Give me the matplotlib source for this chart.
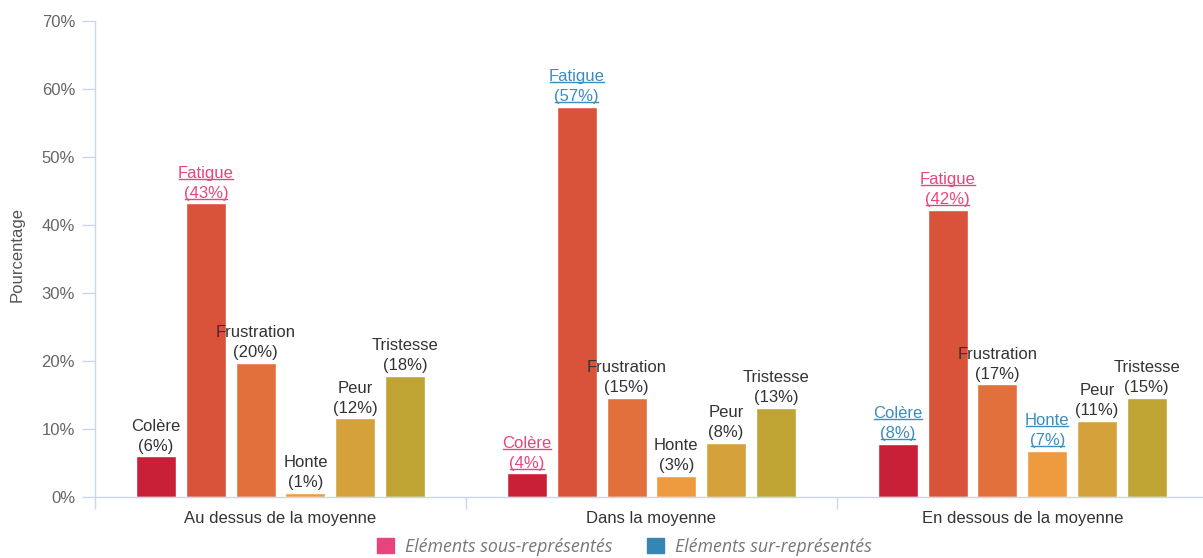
import numpy as np
import matplotlib.pyplot as plt
from matplotlib.patches import Patch
from matplotlib.lines import Line2D
from matplotlib.ticker import FuncFormatter, FixedLocator

plt.rcParams['font.family'] = ['Liberation Sans', 'DejaVu Sans']

# Données : pourcentage de chaque émotion par groupe
groupes = ['Au dessus de la moyenne', 'Dans la moyenne', 'En dessous de la moyenne']
emotions = ['Colère', 'Fatigue', 'Frustration', 'Honte', 'Peur', 'Tristesse']
au_dessus = [6.0, 43.2, 19.7, 0.6, 11.6, 17.8]
dans = [3.5, 57.4, 14.6, 3.1, 8.0, 13.1]
en_dessous = [7.8, 42.3, 16.6, 6.8, 11.2, 14.6]

# Ecarts significatifs : 'sous' = sous-représenté, 'sur' = sur-représenté
ecarts_au_dessus = ['', 'sous', '', '', '', '']
ecarts_dans = ['sous', 'sur', '', '', '', '']
ecarts_en_dessous = ['sur', 'sous', '', 'sur', '', '']

couleurs = ['#C82137', '#D9533A', '#E2703D', '#EE9A3E', '#D4A13A', '#BFA434']
couleur_ecart = {'sous': '#E8457C', 'sur': '#3C8CC0', '': '#333333'}
axe_couleur = '#CCD6EB'

valeurs = np.array([au_dessus, dans, en_dessous])
ecarts = [ecarts_au_dessus, ecarts_dans, ecarts_en_dessous]

fig = plt.figure(figsize=(12.03, 5.58), dpi=100)
ax = fig.add_axes([0.079, 0.109, 0.925, 0.853])

x = np.arange(len(groupes))
pas = 0.1342
largeur = 0.108
a_souligner = []

for i, emo in enumerate(emotions):
    pos = x + (i - 2.5) * pas
    ax.bar(pos, valeurs[:, i], largeur, color=couleurs[i],
           edgecolor='white', linewidth=1, zorder=2)
    for g in range(len(groupes)):
        v = valeurs[g, i]
        c = couleur_ecart[ecarts[g][i]]
        t1 = ax.annotate(f'({v:.0f}%)', (pos[g], v), xytext=(0, 2),
                         textcoords='offset points', ha='center', va='bottom',
                         fontsize=12, color=c, zorder=3)
        t2 = ax.annotate(emo, (pos[g], v), xytext=(0, 16.4),
                         textcoords='offset points', ha='center', va='bottom',
                         fontsize=12, color=c, zorder=3)
        if ecarts[g][i]:
            a_souligner += [(t1, c), (t2, c)]

ax.set_xlim(-0.5, 2.5)
ax.set_ylim(0, 70)
ax.set_yticks(np.arange(0, 71, 10))
ax.yaxis.set_major_formatter(FuncFormatter(lambda v, _: f'{v:.0f}%'))
ax.set_xticks(x)
ax.set_xticklabels(groupes)
ax.xaxis.set_minor_locator(FixedLocator([-0.5, 0.5, 1.5, 2.5]))

ax.tick_params(axis='y', length=9.4, width=1, color=axe_couleur,
               labelcolor='#666666', labelsize=12, pad=5)
ax.tick_params(axis='x', which='major', length=0, labelsize=12,
               labelcolor='#333333', pad=10)
ax.tick_params(axis='x', which='minor', length=8.6, width=1, color=axe_couleur)

for s in ['top', 'right']:
    ax.spines[s].set_visible(False)
for s in ['left', 'bottom']:
    ax.spines[s].set_color(axe_couleur)
    ax.spines[s].set_linewidth(1)

ax.set_ylabel('Pourcentage', fontsize=12, color='#555555')
ax.yaxis.set_label_coords(-0.063, 0.51)

leg = fig.legend(handles=[Patch(color='#E8437E', label='Eléments sous-représentés'),
                          Patch(color='#3586B5', label='Eléments sur-représentés')],
                 loc='center', bbox_to_anchor=(0.519, 0.02), ncol=2, frameon=False,
                 prop={'family': 'Open Sans', 'style': 'italic', 'size': 12.8},
                 labelcolor='#777777', handlelength=0.95, handleheight=0.95,
                 handletextpad=0.6, columnspacing=2.0)

# soulignement des étiquettes colorées
fig.canvas.draw()
inv = fig.transFigure.inverted()
for t, c in a_souligner:
    bb = t.get_window_extent()
    (x0, y0), (x1, _) = inv.transform([(bb.x0 + 1, bb.y0 + 2), (bb.x1 - 1, bb.y0 + 2)])
    fig.add_artist(Line2D([x0, x1], [y0, y0], color=c, linewidth=1))

fig.savefig('out.png', dpi=100)
